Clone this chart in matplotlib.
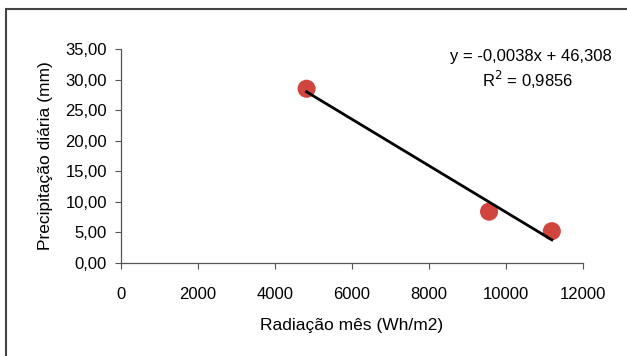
import numpy as np
import matplotlib.pyplot as plt
from matplotlib.patches import Rectangle

plt.rcParams['font.family'] = ['Liberation Sans', 'DejaVu Sans']

# monthly radiation vs daily precipitation
radiacao = [4820, 9560, 11190]
precipitacao = [28.5, 8.4, 5.2]

# trendline as reported
slope = -0.0038
intercept = 46.308
r2 = 0.9856

x_ticks = [0, 2000, 4000, 6000, 8000, 10000, 12000]
y_ticks = [0, 5, 10, 15, 20, 25, 30, 35]

fig = plt.figure(figsize=(6.27, 3.56), dpi=100)
ax = fig.add_axes([121 / 627, 1 - 263 / 356, 462 / 627, 214 / 356])

ax.scatter(radiacao, precipitacao, s=170, color='#d0463f', edgecolors='none', zorder=2)

xl = np.array([min(radiacao), max(radiacao)])
ax.plot(xl, slope * xl + intercept, color='black', lw=2, zorder=3)

ax.set_xlim(0, 12000)
ax.set_ylim(0, 35)
ax.set_xticks(x_ticks)
ax.set_yticks(y_ticks)
ax.set_yticklabels([f'{v:.2f}'.replace('.', ',') for v in y_ticks])
ax.tick_params(direction='out', length=4, width=0.8, color='#555555',
               labelsize=12, colors='black')
ax.tick_params(axis='x', pad=13)
ax.tick_params(axis='y', pad=6)
for side in ['top', 'right']:
    ax.spines[side].set_visible(False)
for side in ['left', 'bottom']:
    ax.spines[side].set_color('#555555')
    ax.spines[side].set_linewidth(0.9)

ax.set_xlabel('Radiação mês (Wh/m2)', fontsize=12.5, labelpad=12)
ax.set_ylabel('Precipitação diária (mm)', fontsize=12.5, labelpad=9)

eq = f'y = {slope:.4f}x + {intercept:.3f}'.replace('.', ',')
fig.text(612 / 627, 1 - 57 / 356, eq, ha='right', va='center', fontsize=12)
fig.text(528 / 627, 1 - 80 / 356, f'R$^2$ = {r2:.4f}'.replace('.', ','),
         ha='center', va='center', fontsize=12)

# chart frame
fig.patches.append(Rectangle((6 / 627, -0.1), 1.2, 1 - 9 / 356 + 0.1,
                             transform=fig.transFigure, fill=False,
                             edgecolor='#444444', lw=1.5))

fig.savefig('out.png', dpi=100)
